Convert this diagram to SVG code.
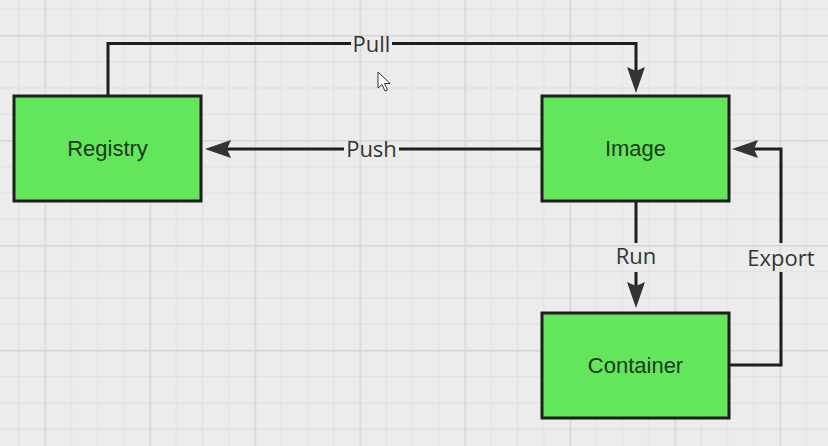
<svg xmlns="http://www.w3.org/2000/svg" width="828" height="446" viewBox="0 0 828 446">
<style>
.node rect{fill:#63e65c;stroke:#1e1e1e;stroke-width:3}
.node text{font-family:"Liberation Sans",Arial,sans-serif;font-size:22px;fill:#1c3a1c;text-anchor:middle}
.conn path{fill:none;stroke:#1e1e1e;stroke-width:3}
.lbl{font-family:"Open Sans","Liberation Sans",sans-serif;font-size:22px;fill:#333;text-anchor:middle}
</style>
<defs>
<pattern id="grid" patternUnits="userSpaceOnUse" x="44.5" y="35" width="105" height="105">
<rect width="105" height="105" fill="#ececec"/>
<rect x="26.25" y="0" width="1" height="105" fill="#dfdfdf"/>
<rect x="52.5" y="0" width="1" height="105" fill="#dfdfdf"/>
<rect x="78.75" y="0" width="1" height="105" fill="#dfdfdf"/>
<rect x="0" y="26.25" width="105" height="1" fill="#dfdfdf"/>
<rect x="0" y="52.5" width="105" height="1" fill="#dfdfdf"/>
<rect x="0" y="78.75" width="105" height="1" fill="#dfdfdf"/>
<rect x="0" y="0" width="1.5" height="105" fill="#d5d5d5"/>
<rect x="0" y="0" width="105" height="1.5" fill="#d5d5d5"/>
</pattern>
<marker id="arr" markerUnits="userSpaceOnUse" viewBox="0 0 26 18" markerWidth="26" markerHeight="18" refX="4" refY="9" orient="auto">
<path d="M0,0 L26,9 L0,18 L4,9 Z" fill="#333"/>
</marker>
</defs>
<rect width="828" height="446" fill="url(#grid)"/>
<g id="connectors" class="conn">
<path id="pull" d="M108,96 V43.5 H351 M392,43.5 H636 V71" marker-end="url(#arr)"/>
<path id="push" d="M542,149 H399 M344,149 H227" marker-end="url(#arr)"/>
<path id="run" d="M636,201 V243 M636,272 V286" marker-end="url(#arr)"/>
<path id="export" d="M729,365 H781 V272 M781,243 V149 H754" marker-end="url(#arr)"/>
<text class="lbl" x="371.5" y="52">Pull</text>
<text class="lbl" x="371.5" y="157">Push</text>
<text class="lbl" x="636" y="264">Run</text>
<text class="lbl" x="781" y="266">Export</text>
</g>
<g id="registry" class="node">
<rect x="14" y="96" width="187" height="105"/>
<text x="107.5" y="156">Registry</text>
</g>
<g id="image" class="node">
<rect x="542" y="96" width="187" height="105"/>
<text x="635.5" y="156">Image</text>
</g>
<g id="container" class="node">
<rect x="542" y="313" width="187" height="105"/>
<text x="635.5" y="373">Container</text>
</g>
<g id="cursor">
<path d="M378,72 V88 L382,84.5 L385,91 L387.5,90 L384.5,83.5 L390,83.5 Z" fill="#fff" stroke="#333" stroke-width="1"/>
</g>
</svg>
